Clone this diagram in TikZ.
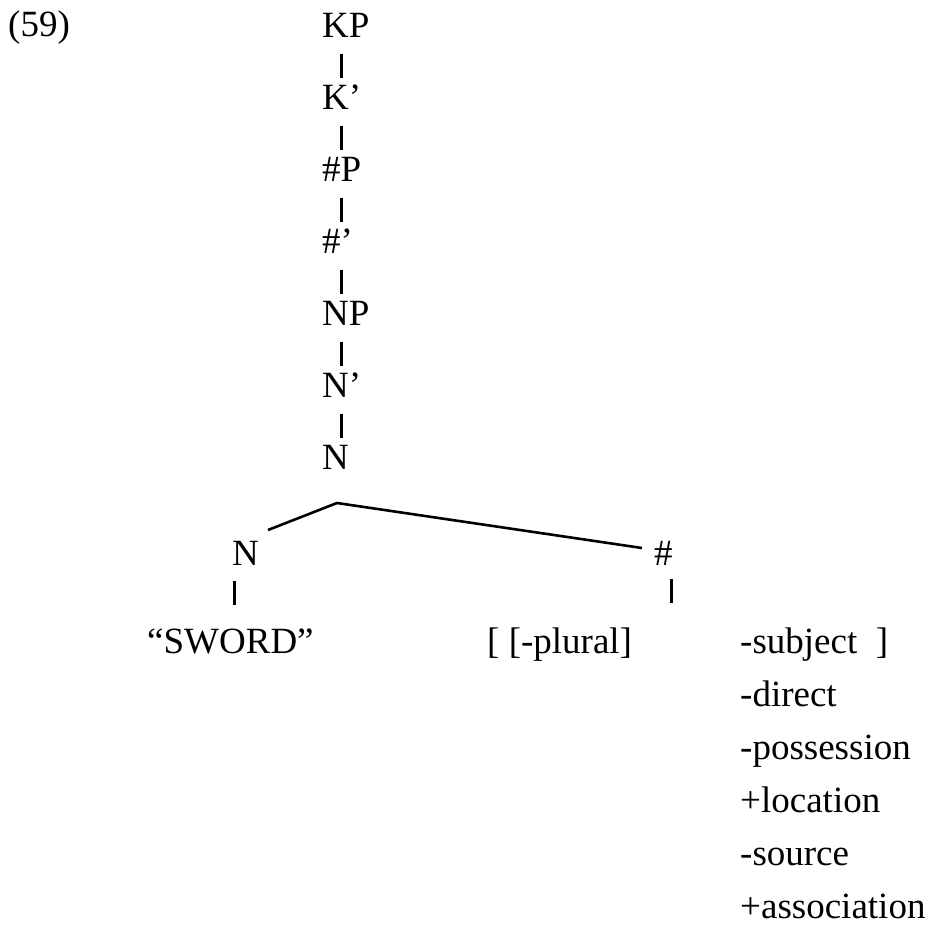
\documentclass[tikz,border=0pt]{standalone}
\usepackage{fontspec}
\setmainfont{Liberation Serif}
\begin{document}
\begin{tikzpicture}[x=1pt,y=-1pt,
  lab/.style={anchor=base west, inner sep=0pt, text height=25pt, text depth=0pt,
              font=\fontsize{37}{37}\selectfont},
  stroke/.style={line width=3pt},
  branch/.style={line width=2.6pt, line join=round}]
  \useasboundingbox (0,0) rectangle (932,938);

  % example number
  \node[lab] (ex) at (8,36) {(59)};

  % unary spine
  \node[lab] (kp)  at (322,37)  {KP};
  \node[lab] (kb)  at (322,109) {K’};
  \node[lab] (hp)  at (322,181) {\#P};
  \node[lab] (hb)  at (322,253) {\#’};
  \node[lab] (np)  at (322,325) {NP};
  \node[lab] (nb)  at (322,397) {N’};
  \node[lab] (n0)  at (322,469) {N};

  \foreach \a/\b in {kp/kb, kb/hp, hp/hb, hb/np, np/nb, nb/n0}
    \draw[stroke] ([xshift=19pt,yshift=-17pt]\a.south west) -- ([xshift=19pt,yshift=6pt]\b.north west);

  % branching
  \coordinate (apex) at (337,503);
  \coordinate (lend) at (268,530);
  \coordinate (rend) at (642,548);
  \draw[branch] (lend) -- (apex) -- (rend);

  \node[lab] (nl) at (232,565) {N};
  \node[lab] (hs) at (654,565) {\#};

  % terminals
  \node[lab] (sw) at (147,653) {“SWORD”};
  \node[lab] (pl) at (487,653) {[\hspace{0.25em}[-plural]};
  \node[lab] (f1) at (740,653) {-subject\hspace{0.5em}]};
  \node[lab] (f2) at (740,706) {-direct};
  \node[lab] (f3) at (740,759) {-possession};
  \node[lab] (f4) at (740,812) {+location};
  \node[lab] (f5) at (740,865) {-source};
  \node[lab] (f6) at (740,918) {+association};

  \draw[stroke] ([xshift=2pt,yshift=-16pt]nl.south west) -- ([xshift=2pt,yshift=23pt]nl.south west |- sw.north);
  \draw[stroke] ([xshift=-1pt,yshift=-14pt]hs.south east) -- ([xshift=-1pt,yshift=25pt]hs.south east |- pl.north);
\end{tikzpicture}
\end{document}
